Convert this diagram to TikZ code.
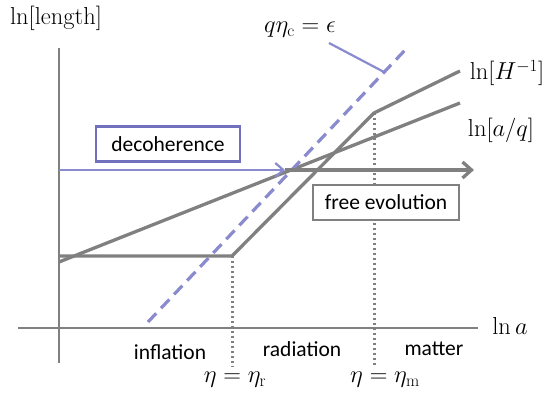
\documentclass[tikz,border=0pt]{standalone}
\usepackage{fix-cm}
\usepackage{amsmath}
\usepackage{fontspec}
\newfontfamily\calibri{Carlito}
\usepackage{tikz}
\usetikzlibrary{arrows.meta}
\definecolor{curvegray}{RGB}{128,128,128}
\definecolor{lavline}{RGB}{138,138,206}
\definecolor{lavbox}{RGB}{112,112,190}
\newcommand{\bigmath}{\fontsize{24.5}{29}\selectfont}
\newcommand{\bigtext}{\calibri\fontsize{21.5}{26}\selectfont}

\begin{document}
\begin{tikzpicture}[x=10pt,y=10pt,
  axis/.style={curvegray,line width=1.7pt},
  curve/.style={curvegray,line width=3.3pt},
  mathlbl/.style={font=\bigmath,inner sep=0pt},
  phaselbl/.style={font=\bigtext,inner sep=0pt},
  stagebox/.style={draw,fill=white,line width=2.8pt,font=\bigtext,minimum height=35pt}]
\useasboundingbox (-5.9,-6.8) rectangle (49.1,32.8);
% axes
\draw[axis] (0,-3.5) -- (0,28);
\draw[axis] (-4.1,0) -- (41.9,0);
\node[mathlbl] (ylbl) at (-0.3,31) {$\ln[\mathrm{length}]$};
\node[mathlbl] (xlbl) at (45.1,0.2) {$\ln a$};
% Hubble length and wavelength
\coordinate (Hstart) at (0,7.2);
\coordinate (Hr) at (17.3,7.2);
\coordinate (Hm) at (31.5,21.5);
\coordinate (Hend) at (40.1,25.7);
\coordinate (aqstart) at (0,6.6);
\coordinate (aqend) at (40.1,22.5);
\draw[curve] (Hstart) -- (Hr) -- (Hm) -- (Hend);
\draw[curve] (aqstart) -- (aqend);
\node[mathlbl] (Hlbl) at (44.8,25.5) {$\ln[H^{-1}]$};
\node[mathlbl] (aqlbl) at (44.2,19.8) {$\ln[a/q]$};
% crossing line
\coordinate (cbot) at (8.9,0.6);
\coordinate (ctop) at (34.8,28.0);
\draw[lavline,line width=3.2pt,dash pattern=on 12pt off 7pt] (cbot) -- (ctop);
\node[mathlbl] (clbl) at (24.1,29.8) {$q\eta_{\mathrm{c}}=\epsilon$};
\coordinate (ptail) at (27.0,28.5);
\coordinate (phead) at (32.5,25.6);
\draw[lavline,line width=2.2pt] (ptail) -- (phead);
% transitions
\coordinate (rfoot) at (17.3,-3.9);
\coordinate (mfoot) at (31.5,-3.7);
\draw[curvegray,line width=3pt,dash pattern=on 2.5pt off 2.5pt] (Hr) -- (rfoot);
\draw[curvegray,line width=3pt,dash pattern=on 2.5pt off 2.5pt] (Hm) -- (mfoot);
% evolution arrows
\coordinate (decstart) at (0,15.8);
\coordinate (dectip) at (22.6,15.8);
\coordinate (freetip) at (41.5,15.8);
\draw[lavline,line width=2.2pt,-{Straight Barb[length=8pt,width=14pt]}] (decstart) -- (dectip);
\draw[curve,-{Straight Barb[length=9pt,width=16pt]}] (dectip) -- (freetip);
\node[stagebox,draw=lavbox,minimum width=144pt] (deco) at (10.9,18.4) {decoherence};
\node[stagebox,draw=curvegray,minimum width=146pt] (free) at (32.7,12.55) {free evolution};
% eras
\node[phaselbl] (infl) at (11.1,-2.4) {inflation};
\node[phaselbl] (rad) at (24.3,-2.1) {radiation};
\node[phaselbl] (mat) at (37.5,-2.1) {matter};
\node[mathlbl] (etar) at (17.6,-5.2) {$\eta=\eta_{\mathrm{r}}$};
\node[mathlbl] (etam) at (32.6,-5.2) {$\eta=\eta_{\mathrm{m}}$};
\end{tikzpicture}
\end{document}
